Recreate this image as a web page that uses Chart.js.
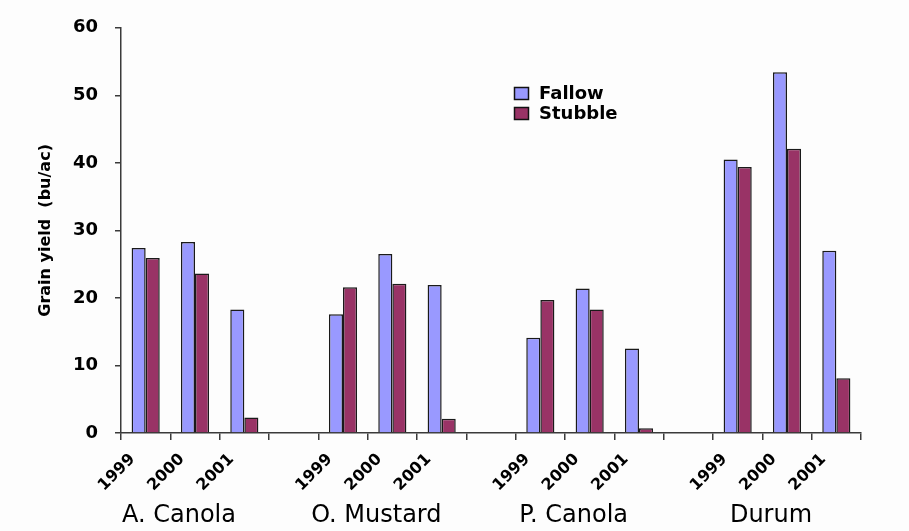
<!DOCTYPE html>
<html>
<head>
<meta charset="utf-8">
<script src="https://cdn.jsdelivr.net/npm/chart.js@4.4.0/dist/chart.umd.min.js"></script>
<style>
  html, body { margin: 0; padding: 0; background: #fdfdfd; }
  #wrap { width: 909px; height: 531px; }
</style>
</head>
<body>
<div id="wrap"><canvas id="yieldChart" width="909" height="531"></canvas></div>
<script>
// crops and years, one gap slot between crop groups
const groups = ['A. Canola', 'O. Mustard', 'P. Canola', 'Durum'];
const years = ['1999', '2000', '2001'];

// grain yield (bu/ac), 3 years per crop in the order of groups
const fallow = [27.4, 28.3, 18.3, 17.6, 26.5, 21.9, 14.1, 21.4, 12.5, 40.5, 53.4, 27.0];
const stubble = [25.9, 23.6, 2.3, 21.6, 22.1, 2.1, 19.7, 18.3, 0.7, 39.4, 42.1, 8.1];

const yTicks = [0, 10, 20, 30, 40, 50, 60];

const axisColor = '#3a3a3a';
const fallowColor = '#9999ff';
const stubbleColor = '#993366';

// build category slots with blank gap after each group (except last)
const labels = [];
const fallowData = [];
const stubbleData = [];
groups.forEach((g, gi) => {
    years.forEach((yr, yi) => {
        labels.push(yr);
        fallowData.push(fallow[gi * 3 + yi]);
        stubbleData.push(stubble[gi * 3 + yi]);
    });
    if (gi < groups.length - 1) {
        labels.push('');
        fallowData.push(null);
        stubbleData.push(null);
    }
});

// group names under the year labels + the floating legend
const extras = {
    id: 'extras',
    afterDraw(chart) {
        const ctx = chart.ctx;
        const x = chart.scales.x;
        ctx.save();
        ctx.fillStyle = '#000';
        ctx.font = '24px "DejaVu Sans", sans-serif';
        ctx.textAlign = 'center';
        ctx.textBaseline = 'middle';
        groups.forEach((g, gi) => {
            const mid = x.getPixelForValue(gi * 4 + 1);
            ctx.fillText(g, mid - 16, 516);
        });

        // legend
        ctx.font = 'bold 18px "DejaVu Sans", sans-serif';
        ctx.textAlign = 'left';
        chart.data.datasets.forEach((ds, i) => {
            const y = 87 + i * 20;
            ctx.fillStyle = ds.backgroundColor;
            ctx.fillRect(514, y, 14, 12);
            ctx.strokeStyle = '#111';
            ctx.lineWidth = 1.5;
            ctx.strokeRect(514.5, y + 0.5, 14, 12);
            ctx.fillStyle = '#000';
            ctx.fillText(ds.label, 539, y + 7);
        });
        ctx.restore();
    }
};

const ctx = document.getElementById('yieldChart').getContext('2d');

const yieldChart = new Chart(ctx, {
    type: 'bar',
    data: {
        labels: labels,
        datasets: [{
            label: 'Fallow',
            data: fallowData,
            backgroundColor: fallowColor,
            borderColor: '#1a1a1a',
            borderWidth: 1.5
        }, {
            label: 'Stubble',
            data: stubbleData,
            backgroundColor: stubbleColor,
            borderColor: '#1a1a1a',
            borderWidth: 1.5
        }]
    },
    options: {
        responsive: false,
        animation: false,
        layout: { padding: { top: 25, right: 48, left: 0, bottom: 0 } },
        datasets: {
            bar: { categoryPercentage: 0.57, barPercentage: 1 }
        },
        plugins: {
            legend: { display: false },
            tooltip: { enabled: false }
        },
        scales: {
            x: {
                grid: {
                    offset: true,
                    drawOnChartArea: false,
                    tickLength: 7,
                    color: axisColor,
                    lineWidth: 1.5
                },
                border: { color: axisColor, width: 1.5 },
                ticks: {
                    autoSkip: false,
                    maxRotation: 45,
                    minRotation: 45,
                    labelOffset: -13,
                    padding: 10,
                    color: '#000',
                    font: { family: 'DejaVu Sans', weight: 'bold', size: 16 }
                },
                afterFit(scale) { scale.height = 98; }
            },
            y: {
                min: 0,
                max: 60,
                afterBuildTicks(scale) { scale.ticks = yTicks.map(v => ({ value: v })); },
                grid: {
                    drawOnChartArea: false,
                    tickLength: 6,
                    color: axisColor,
                    lineWidth: 1.5
                },
                border: { color: axisColor, width: 1.5 },
                ticks: {
                    padding: 17,
                    color: '#000',
                    font: { family: 'DejaVu Sans', weight: 'bold', size: 18 }
                },
                title: {
                    display: true,
                    text: 'Grain yield  (bu/ac)',
                    color: '#000',
                    padding: { top: 36, bottom: 0 },
                    font: { family: 'DejaVu Sans', weight: 'bold', size: 16 }
                },
                afterFit(scale) { scale.width = 121; }
            }
        }
    },
    plugins: [extras]
});
</script>
</body>
</html>
